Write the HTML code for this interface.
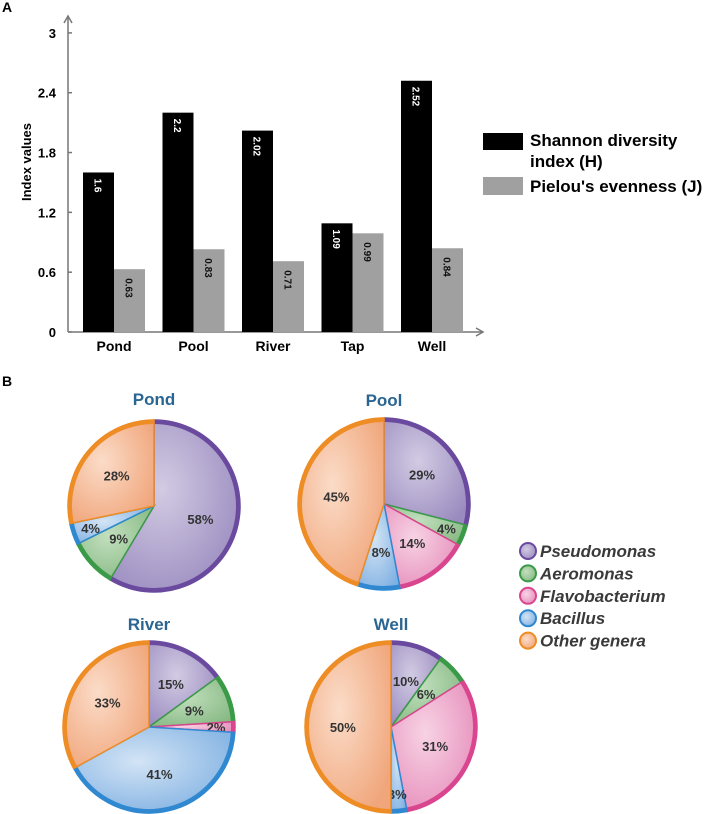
<!DOCTYPE html>
<html><head><meta charset="utf-8"><style>
body{margin:0;background:#fff;width:709px;height:814px;overflow:hidden;font-family:"Liberation Sans",Arial,sans-serif}
svg{display:block}
</style></head><body>
<svg id="chart" width="709" height="814" viewBox="0 0 709 814" xmlns="http://www.w3.org/2000/svg">
<defs>
<radialGradient id="gP" cx="40%" cy="40%" r="70%"><stop offset="0" stop-color="#d2cbe3"/><stop offset="1" stop-color="#9a8bbf"/></radialGradient>
<radialGradient id="gA" cx="40%" cy="40%" r="70%"><stop offset="0" stop-color="#c2dfbe"/><stop offset="1" stop-color="#86b983"/></radialGradient>
<radialGradient id="gF" cx="40%" cy="40%" r="70%"><stop offset="0" stop-color="#f7d3e4"/><stop offset="1" stop-color="#e68cba"/></radialGradient>
<radialGradient id="gB" cx="40%" cy="40%" r="70%"><stop offset="0" stop-color="#d3e4f5"/><stop offset="1" stop-color="#7fb0e2"/></radialGradient>
<radialGradient id="gO" cx="40%" cy="40%" r="70%"><stop offset="0" stop-color="#fbdcc8"/><stop offset="1" stop-color="#f0a57a"/></radialGradient>
</defs>
<text x="2" y="12" font-size="14" font-weight="bold">A</text>
<text x="2" y="386" font-size="14" font-weight="bold">B</text>
<g id="bars"></g>
<g id="pies"></g>
</svg>
<script>
const categories=["Pond","Pool","River","Tap","Well"];
const shannon=[1.6,2.2,2.02,1.09,2.52];
const pielou=[0.63,0.83,0.71,0.99,0.84];
const yTicks=[0,0.6,1.2,1.8,2.4,3];
const genera=["Pseudomonas","Aeromonas","Flavobacterium","Bacillus","Other genera"];
const pieSites=["Pond","Pool","River","Well"];
const pondPct=[58,9,0,4,28];
const poolPct=[29,4,14,8,45];
const riverPct=[15,9,2,41,33];
const wellPct=[10,6,31,3,50];

const NS="http://www.w3.org/2000/svg";
function el(tag,attrs,parent,text){const e=document.createElementNS(NS,tag);for(const k in attrs)e.setAttribute(k,attrs[k]);if(text!==undefined)e.textContent=text;parent.appendChild(e);return e;}
const bars=document.getElementById('bars');
const y=v=>332-v*99.7;
const x0=83, groupW=79.5, barW=31;
const xc=i=>x0+i*groupW;
let ax=el('line',{x1:68,y1:332,x2:482,y2:332,stroke:'#777','stroke-width':1.5},bars);

let xa=el('path',{d:'M476,328 L483,332 L476,336',fill:'none',stroke:'#777','stroke-width':1.5},bars);

let ay=el('line',{x1:68,y1:332,x2:68,y2:16,stroke:'#777','stroke-width':1.5},bars);

let ya=el('path',{d:'M64,23 L68,16 L72,23',fill:'none',stroke:'#777','stroke-width':1.5},bars);

yTicks.forEach(t=>{
  const tk=el('line',{x1:68,x2:72,y1:y(t),y2:y(t),stroke:'#777','stroke-width':1.5},bars);
  
  const tl=el('text',{x:56,y:y(t)+5,'font-size':13,'font-weight':'bold','text-anchor':'end'},bars,String(t));
  
});
let yt=el('text',{transform:'translate(31,162) rotate(-90)','font-size':13,'font-weight':'bold','text-anchor':'middle'},bars,'Index values');

categories.forEach((c,i)=>{
  const bx=xc(i);
  const b1=el('rect',{x:bx,y:y(shannon[i]),width:barW,height:332-y(shannon[i]),fill:'#000'},bars);
  
  const b2=el('rect',{x:bx+barW,y:y(pielou[i]),width:barW,height:332-y(pielou[i]),fill:'#a0a0a0'},bars);
  
  const l1=el('text',{transform:`translate(${bx+barW/2-4},${y(shannon[i])+6}) rotate(90)`,'font-size':10,'font-weight':'bold',fill:'#fff'},bars,String(shannon[i]));
  
  const l2=el('text',{transform:`translate(${bx+barW*1.5-4},${y(pielou[i])+9}) rotate(90)`,'font-size':10,'font-weight':'bold',fill:'#111'},bars,String(pielou[i]));
  
  const cl=el('text',{x:bx+barW,y:351,'font-size':14,'font-weight':'bold','text-anchor':'middle'},bars,c);
  
});
let lg1=el('rect',{x:483,y:133,width:40,height:17,fill:'#000'},bars);

let lt1=el('text',{x:530,y:146,'font-size':17,'font-weight':'bold'},bars,'Shannon diversity');

el('text',{x:530,y:167,'font-size':17,'font-weight':'bold'},bars,'index (H)');
let lg2=el('rect',{x:483,y:177,width:40,height:18,fill:'#a0a0a0'},bars);

let lt2=el('text',{x:530,y:192,'font-size':17,'font-weight':'bold'},bars,"Pielou's evenness (J)");


const pies=document.getElementById('pies');
const fills=['url(#gP)','url(#gA)','url(#gF)','url(#gB)','url(#gO)'];
const rims=['#6a4a9e','#3b9a48','#d9468f','#2f88d0','#ee8c25'];
const centers=[[154,506],[384,504],[149,727],[391,727]];
const titleY=[405,406,630,630];
const allPct=[pondPct,poolPct,riverPct,wellPct];
const R=86;
function pt(cx,cy,r,a){return [cx+r*Math.sin(a),cy-r*Math.cos(a)];}
pieSites.forEach((s,k)=>{
  const [cx,cy]=centers[k];const data=allPct[k];
  const tot=data.reduce((a,b)=>a+b,0);
  const g=el('g',{},pies);
  
  const t=el('text',{x:cx,y:titleY[k],'font-size':17,'font-weight':'bold',fill:'#2b6592','text-anchor':'middle'},g,s);
  
  let a=0;
  data.forEach((v,j)=>{
    if(v<=0)return;
    const a2=a+v/tot*2*Math.PI;
    const [x1,y1]=pt(cx,cy,R,a),[x2,y2]=pt(cx,cy,R,a2);
    const large=(a2-a)>Math.PI?1:0;
    const p=el('path',{d:`M${cx},${cy} L${x1},${y1} A${R},${R} 0 ${large} 1 ${x2},${y2} Z`,fill:fills[j],stroke:rims[j],'stroke-width':1.5},g);
    
    const [r1x,r1y]=pt(cx,cy,R-2,a),[r2x,r2y]=pt(cx,cy,R-2,a2);
    el('path',{d:`M${r1x},${r1y} A${R-2},${R-2} 0 ${large} 1 ${r2x},${r2y}`,fill:'none',stroke:rims[j],'stroke-width':4},g);
    const mid=(a+a2)/2;const rr=v<5?R*0.78:R*0.56;
    const [lx,ly]=pt(cx,cy,rr,mid);
    const lb=el('text',{x:lx,y:ly+5,'font-size':13,'font-weight':'bold',fill:'#333','text-anchor':'middle'},g,v+'%');
    
    a=a2;
  });
});
genera.forEach((gname,j)=>{
  const yy=551+j*22.4;
  const c=el('circle',{cx:528,cy:yy,r:8,fill:fills[j],stroke:rims[j],'stroke-width':2},pies);
  
  const tx=el('text',{x:540,y:yy+6,'font-size':17,'font-weight':'bold','font-style':'italic',fill:'#3a3a3a'},pies,gname);
  
});
</script>
</body></html>
